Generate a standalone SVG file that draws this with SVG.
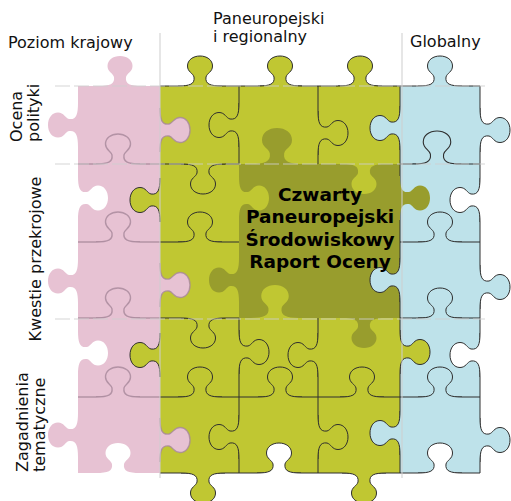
<svg xmlns="http://www.w3.org/2000/svg" width="511" height="501" viewBox="0 0 511 501">
<style>
.p{fill:#e7c2d3}.g{fill:#c0c732}.d{fill:#989d2d}.b{fill:#bee2ea}.w{fill:#fff}
.n{stroke:none}.k{stroke:#2e2e2e;stroke-width:1}.f{stroke:#a6879a;stroke-width:1.4;stroke-opacity:.8}
.ln{fill:none;stroke:#2e2e2e;stroke-width:1}
.lp{fill:none;stroke:#a6879a;stroke-width:1.4;stroke-opacity:.8}
.grid{fill:none;stroke:#cfcfcf;stroke-width:1.2;opacity:.85}
.dash{stroke-dasharray:15 4}
text{font-family:"DejaVu Sans",Verdana,sans-serif;font-size:16px;fill:#111}
.t{font-weight:bold;font-size:18.5px;text-anchor:middle;fill:#000}
</style>
<defs>
<g id="k">
<path stroke="none" d="M-22,0 C-10,0 -5,-2 -6,-9 C-7,-13 -12.5,-14 -12.5,-20 C-12.5,-26 -7,-30 0,-30 C7,-30 12.5,-26 12.5,-20 C12.5,-14 7,-13 6,-9 C5,-2 10,0 22,0 L22,2 L-22,2 Z"/>
<path fill="none" d="M-22,0 C-10,0 -5,-2 -6,-9 C-7,-13 -12.5,-14 -12.5,-20 C-12.5,-26 -7,-30 0,-30 C7,-30 12.5,-26 12.5,-20 C12.5,-14 7,-13 6,-9 C5,-2 10,0 22,0"/>
</g>
</defs>

<g id="labels">
<text x="8" y="48">Poziom krajowy</text>
<text x="213" y="24">Paneuropejski</text>
<text x="213" y="42">i regionalny</text>
<text x="410" y="47">Globalny</text>
<text transform="translate(22,142) rotate(-90)">Ocena</text>
<text transform="translate(39,142) rotate(-90)">polityki</text>
<text transform="translate(41,259) rotate(-90)" text-anchor="middle">Kwestie przekrojowe</text>
<text transform="translate(28,472) rotate(-90)">Zagadnienia</text>
<text transform="translate(45,472) rotate(-90)">tematyczne</text>
</g>

<g id="pieces">
<rect class="p" x="78" y="86" width="82" height="387"/>
<rect class="g" x="160" y="86" width="240" height="387"/>
<rect class="b" x="400" y="86" width="80" height="387"/>
<rect class="d" x="239" y="164" width="161" height="154"/>
</g>

<g id="connectors">
<path class="ln" d="M160,86 H480 V473 H160 M239,86 V164 M239,318 V473 M318,86 V164 M318,318 V473 M400,86 V473 M160,164 H239 M400,164 H480 M160,242 H239 M400,242 H480 M160,318 H239 M400,318 H480 M160,397 H480"/>
<path class="lp" d="M78,164 H160 M78,242 H160 M78,318 H160 M78,397 H160"/>

<!-- top edge -->
<use href="#k" class="p n" transform="translate(120,86)"/>
<use href="#k" class="g k" transform="translate(200,86)"/>
<use href="#k" class="g k" transform="translate(280,86)"/>
<use href="#k" class="g k" transform="translate(360,86)"/>
<use href="#k" class="b k" transform="translate(440,86)"/>
<!-- pink left -->
<use href="#k" class="p n" transform="translate(78,125) rotate(-90)"/>
<use href="#k" class="w n" transform="translate(78,198) rotate(90)"/>
<use href="#k" class="p n" transform="translate(78,281) rotate(-90)"/>
<use href="#k" class="w n" transform="translate(78,353) rotate(90)"/>
<use href="#k" class="p n" transform="translate(78,435) rotate(-90)"/>
<!-- pink internal -->
<use href="#k" class="p f" transform="translate(118,164)"/>
<use href="#k" class="p f" transform="translate(118,242)"/>
<use href="#k" class="p f" transform="translate(118,318)"/>
<use href="#k" class="p f" transform="translate(118,397)"/>
<use href="#k" class="w n" transform="translate(118,473)"/>
<!-- x=160 -->
<use href="#k" class="p f" transform="translate(160,130) rotate(90)"/>
<use href="#k" class="g k" transform="translate(160,200) rotate(-90)"/>
<use href="#k" class="p f" transform="translate(160,285) rotate(90)"/>
<use href="#k" class="g k" transform="translate(160,355) rotate(-90)"/>
<use href="#k" class="p f" transform="translate(160,440) rotate(90)"/>
<!-- column 1 horizontal -->
<use href="#k" class="g k" transform="translate(203,164) rotate(180)"/>
<use href="#k" class="g k" transform="translate(200,242)"/>
<use href="#k" class="g k" transform="translate(203,318) rotate(180)"/>
<use href="#k" class="g k" transform="translate(200,397)"/>
<use href="#k" class="g k" transform="translate(203,473) rotate(180)"/>
<!-- x=239 -->
<use href="#k" class="g k" transform="translate(239,125) rotate(-90)"/>
<use href="#k" class="g n" transform="translate(239,198) rotate(90)"/>
<use href="#k" class="d n" transform="translate(239,280) rotate(-90)"/>
<use href="#k" class="g k" transform="translate(239,352) rotate(90)"/>
<use href="#k" class="g k" transform="translate(239,437) rotate(-90)"/>
<!-- x=318 -->
<use href="#k" class="g k" transform="translate(318,133) rotate(90)"/>
<use href="#k" class="g k" transform="translate(318,355) rotate(-90)"/>
<use href="#k" class="g k" transform="translate(318,437) rotate(90)"/>
<!-- x=400 -->
<use href="#k" class="b k" transform="translate(400,128) rotate(-90)"/>
<use href="#k" class="d n" transform="translate(400,198) rotate(90)"/>
<use href="#k" class="b k" transform="translate(400,280) rotate(-90)"/>
<use href="#k" class="g k" transform="translate(400,352) rotate(90)"/>
<use href="#k" class="b k" transform="translate(400,433) rotate(-90)"/>
<!-- x=480 -->
<use href="#k" class="b k" transform="translate(480,130) rotate(90)"/>
<use href="#k" class="w k" transform="translate(480,200) rotate(-90)"/>
<use href="#k" class="b k" transform="translate(480,287) rotate(90)"/>
<use href="#k" class="w k" transform="translate(480,355) rotate(-90)"/>
<use href="#k" class="b k" transform="translate(480,440) rotate(90)"/>
<!-- y=164 -->
<use href="#k" class="d n" transform="translate(277,164) scale(1.2)"/>
<use href="#k" class="g n" transform="translate(364,164) rotate(180)"/>
<use href="#k" class="b k" transform="translate(437,164) scale(1.1)"/>
<!-- y=242 -->
<use href="#k" class="b k" transform="translate(440,242)"/>
<!-- y=318 -->
<use href="#k" class="g n" transform="translate(275,318) scale(1.1)"/>
<use href="#k" class="d n" transform="translate(364,318) rotate(180)"/>
<use href="#k" class="b k" transform="translate(440,318)"/>
<!-- y=397 -->
<use href="#k" class="g k" transform="translate(280,397)"/>
<use href="#k" class="g k" transform="translate(362,397)"/>
<use href="#k" class="b k" transform="translate(440,397)"/>
<!-- y=473 -->
<use href="#k" class="w k" transform="translate(279,473)"/>
<use href="#k" class="g k" transform="translate(364,473) rotate(180)"/>
<use href="#k" class="w k" transform="translate(440,473)"/>
</g>

<g id="grid">
<path class="grid" d="M160,33 V478 M402,33 V478"/>
<path class="grid dash" d="M55,86 H485 M55,164 H485 M55,319 H485"/>
</g>

<g id="report">
<text class="t" x="320" y="201">Czwarty</text>
<text class="t" x="320" y="223">Paneuropejski</text>
<text class="t" x="320" y="246">Środowiskowy</text>
<text class="t" x="320" y="268">Raport Oceny</text>
</g>
</svg>
